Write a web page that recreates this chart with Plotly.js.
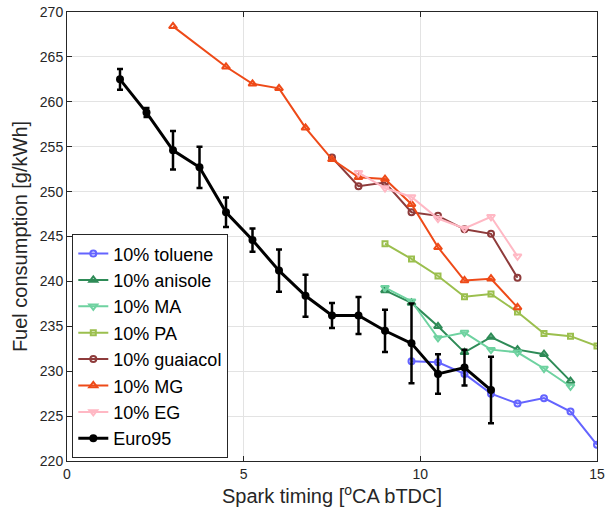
<!DOCTYPE html>
<html>
<head>
<meta charset="utf-8">
<script src="https://cdn.plot.ly/plotly-3.0.1.min.js"></script>
<style>html,body{margin:0;padding:0;background:#fff;}#chart{width:606px;height:523px;}</style>
</head>
<body>
<div id="chart"></div>
<script>
// Spark timing values [°CA bTDC]
const xEuro = [1.5, 2.25, 3, 3.75, 4.5, 5.25, 6, 6.75, 7.5, 8.25, 9, 9.75, 10.5, 11.25, 12];
const yEuro = [262.5, 258.8, 254.6, 252.7, 247.7, 244.6, 241.2, 238.4, 236.2, 236.2, 234.5, 233.1, 229.7, 230.4, 227.9];
const errEuro = [1.15, 0.5, 2.15, 2.3, 1.65, 1.3, 2.35, 2.35, 1.4, 2.05, 2.35, 4.45, 2.2, 2.0, 3.7];

const xToluene = [9.75, 10.5, 11.25, 12, 12.75, 13.5, 14.25, 15];
const yToluene = [231.1, 231.0, 229.7, 227.5, 226.4, 227.0, 225.5, 221.8];

const xAnisole = [9, 9.75, 10.5, 11.25, 12, 12.75, 13.5, 14.25];
const yAnisole = [239.0, 237.6, 235.0, 232.1, 233.8, 232.4, 231.9, 228.9];

const xMA = [9, 9.75, 10.5, 11.25, 12, 12.75, 13.5, 14.25];
const yMA = [239.3, 237.8, 233.7, 234.3, 232.4, 232.1, 230.3, 228.3];

const xPA = [9, 9.75, 10.5, 11.25, 12, 12.75, 13.5, 14.25, 15];
const yPA = [244.2, 242.5, 240.6, 238.3, 238.6, 236.6, 234.2, 233.9, 232.8];

const xGuaiacol = [7.5, 8.25, 9, 9.75, 10.5, 11.25, 12, 12.75];
const yGuaiacol = [253.8, 250.6, 251.0, 247.7, 247.3, 245.8, 245.3, 240.4];

const xMG = [3, 4.5, 5.25, 6, 6.75, 7.5, 8.25, 9, 9.75, 10.5, 11.25, 12, 12.75];
const yMG = [268.4, 263.9, 262.0, 261.5, 257.1, 253.6, 251.6, 251.4, 248.6, 243.8, 240.1, 240.3, 237.1];

const xEG = [8.25, 9, 9.75, 10.5, 11.25, 12, 12.75];
const yEG = [252.1, 250.4, 249.4, 247.0, 245.9, 247.2, 242.8];

const names = ['10% toluene', '10% anisole', '10% MA', '10% PA', '10% guaiacol', '10% MG', '10% EG', 'Euro95'];
const xTicks = [0, 5, 10, 15];
const yTicks = [220, 225, 230, 235, 240, 245, 250, 255, 260, 265, 270];

function series(x, y, name, color, symbol, size) {
  return {
    x: x, y: y, name: name, type: 'scatter', mode: 'lines+markers',
    line: {color: color, width: 2},
    marker: {color: color, symbol: symbol, size: size, line: {color: color, width: 2}}
  };
}

const traces = [
  series(xToluene, yToluene, names[0], '#6464FF', 'circle-open', 6),
  series(xAnisole, yAnisole, names[1], '#2E8B57', 'triangle-up-open', 7),
  series(xMA, yMA, names[2], '#6ED2A0', 'triangle-down-open', 7),
  series(xPA, yPA, names[3], '#9BBF4E', 'square-open', 5),
  series(xGuaiacol, yGuaiacol, names[4], '#8E3B3B', 'circle-open', 6),
  series(xMG, yMG, names[5], '#EE4A18', 'triangle-up-open', 7),
  series(xEG, yEG, names[6], '#FFB8C4', 'triangle-down-open', 7),
  {
    x: xEuro, y: yEuro, name: names[7], type: 'scatter', mode: 'lines+markers',
    line: {color: '#000000', width: 3},
    marker: {color: '#000000', symbol: 'circle', size: 8},
    error_y: {type: 'data', array: errEuro, visible: true, color: '#000000', thickness: 2.5, width: 3}
  }
];

const font = {family: 'Liberation Sans, Arial, sans-serif', color: '#262626'};
const layout = {
  width: 606, height: 523,
  margin: {l: 67, r: 9, t: 12, b: 62},
  paper_bgcolor: '#ffffff', plot_bgcolor: '#ffffff',
  font: Object.assign({size: 14}, font),
  showlegend: true,
  legend: {
    x: 0.01, y: 0.006, xanchor: 'left', yanchor: 'bottom',
    bgcolor: '#ffffff', bordercolor: '#262626', borderwidth: 1,
    font: Object.assign({size: 18}, font, {color: '#000000'}),
    itemwidth: 30, tracegroupgap: 0
  },
  xaxis: {
    range: [0, 15], tickvals: xTicks, ticktext: xTicks.map(String),
    showgrid: true, gridcolor: '#e3e3e3', gridwidth: 1,
    zeroline: false, showline: true, linecolor: '#262626', linewidth: 1, mirror: 'ticks',
    ticks: 'inside', ticklen: 5, tickcolor: '#262626',
    tickfont: Object.assign({size: 14}, font),
    title: {text: 'Spark timing [<sup>o</sup>CA bTDC]', font: Object.assign({size: 20}, font), standoff: 8}
  },
  yaxis: {
    range: [220, 270], tickvals: yTicks, ticktext: yTicks.map(String),
    showgrid: true, gridcolor: '#e3e3e3', gridwidth: 1,
    zeroline: false, showline: true, linecolor: '#262626', linewidth: 1, mirror: 'ticks',
    ticks: 'inside', ticklen: 5, tickcolor: '#262626',
    tickfont: Object.assign({size: 14}, font),
    title: {text: 'Fuel consumption [g/kWh]', font: Object.assign({size: 20}, font), standoff: 6}
  }
};

Plotly.newPlot('chart', traces, layout, {displayModeBar: false, staticPlot: true});
</script>
</body>
</html>
